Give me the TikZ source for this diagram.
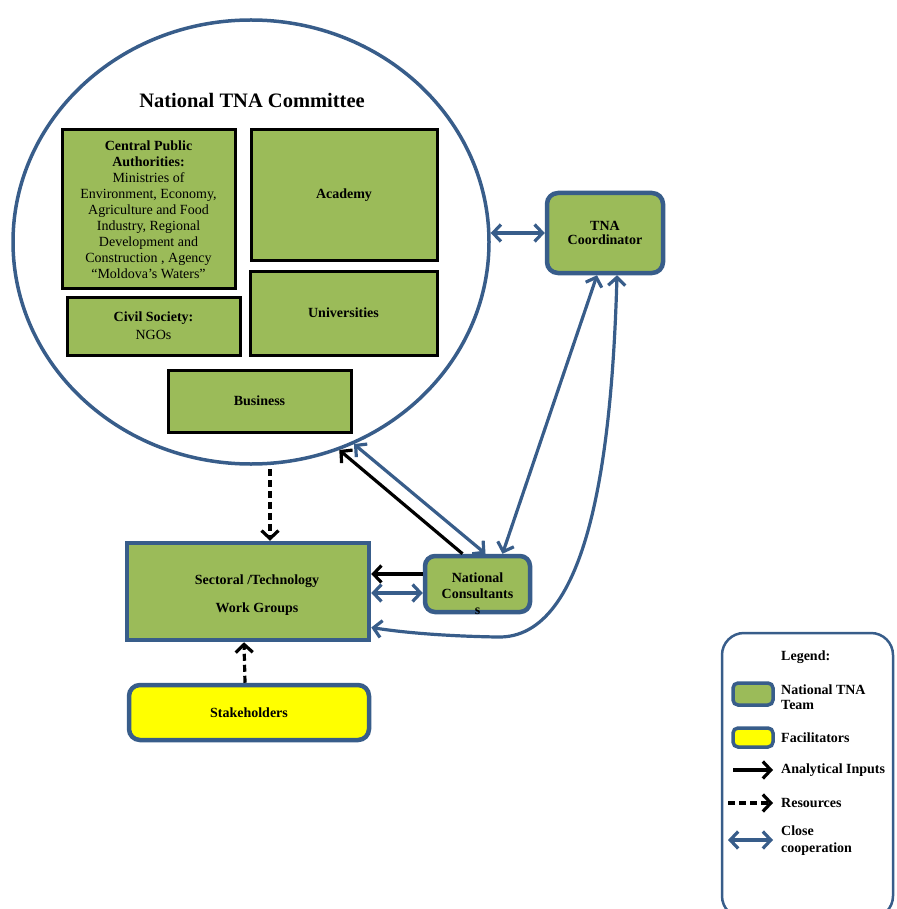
\documentclass[tikz,border=0pt]{standalone}
\usepackage{fontspec}
\setmainfont{Liberation Serif}
\usetikzlibrary{arrows.meta,shapes.geometric,calc}
\definecolor{tnagreen}{HTML}{9BBB59}
\definecolor{tnablue}{HTML}{385D8A}
\definecolor{tnayellow}{HTML}{FFFF00}

\tikzset{
  body/.style={font=\fontsize{14}{16}\selectfont\bfseries, align=center, inner sep=0pt},
  member/.style={draw=black, line width=3pt, fill=tnagreen, inner sep=0pt, body},
  team/.style={draw=tnablue, line width=4.5pt, fill=tnagreen, inner sep=0pt, body},
  teamround/.style={team, rounded corners=11pt},
  helper/.style={draw=tnablue, line width=4.5pt, fill=tnayellow, rounded corners=11pt, inner sep=0pt, body},
  barb/.tip={Straight Barb[length=8pt,width=17pt]},
  coop/.style={draw=tnablue, line width=3.2pt, barb-barb},
  input/.style={draw=black, line width=3.2pt, -barb},
  resource/.style={input, dash pattern=on 7pt off 4pt},
  legtext/.style={font=\fontsize{14}{15}\selectfont\bfseries, align=left, inner sep=0pt, anchor=west},
}

\begin{document}
\begin{tikzpicture}[x=1pt,y=-1pt]
\useasboundingbox (0,0) rectangle (896,909);

% committee circle and its members
\node[ellipse, draw=tnablue, line width=3.5pt, minimum width=476pt, minimum height=444pt, inner sep=0pt]
  (committee) at (251,242) {};
\node[font=\fontsize{20.5}{24}\selectfont\bfseries, inner sep=0pt] (title) at (252,100) {National TNA Committee};

\node[member, minimum width=173pt, minimum height=158pt] (cpa) at (148.5,209) {};
\node[body] (cpatext) at (148.5,210) {Central Public\\Authorities:\\
  \mdseries Ministries of\\ \mdseries Environment, Economy,\\ \mdseries Agriculture and Food\\
  \mdseries Industry, Regional\\ \mdseries Development and\\ \mdseries Construction , Agency\\
  \mdseries ``Moldova's Waters''};
\node[member, minimum width=186pt, minimum height=130pt] (academy) at (344,195) {Academy};
\node[member, minimum width=187pt, minimum height=84pt] (univ) at (343.5,313) {Universities};
\node[member, minimum width=173pt, minimum height=58pt, font=\fontsize{14}{18}\selectfont\bfseries] (civil) at (153.5,326)
  {Civil Society:\\ \mdseries NGOs};
\node[member, minimum width=183pt, minimum height=62pt] (business) at (259.5,401) {Business};

% coordinator, consultants, work groups, stakeholders
\node[teamround, minimum width=116pt, minimum height=80pt, font=\fontsize{14}{14.5}\selectfont\bfseries]
  (tna) at (605,233) {TNA\\Coordinator};
\node[teamround, minimum width=105pt, minimum height=56pt, rounded corners=10pt] (cons) at (477.5,584) {};
\node[body] (constext) at ($(cons.center)+(0,10)$) {National\\Consultants\\s};
\node[team, minimum width=242pt, minimum height=97pt] (sector) at (248,591.5) {};
\node[body, font=\fontsize{14}{28}\selectfont\bfseries] (sectortext) at (257,595) {Sectoral /Technology\\Work Groups};
\node[helper, minimum width=240pt, minimum height=55pt] (stake) at (249,712.5) {Stakeholders};

% connectors
\draw[resource] ($(committee.south)+(19,3)$) -- ($(sector.north)+(22,0)$);
\draw[resource] ($(stake.north)+(-4,0)$) -- ($(sector.south)+(-4,0)$);
\draw[coop] (committee.east |- tna.west) -- (tna.west);
\draw[input] ($(cons.north)+(-15,0)$) -- (committee.-67.4);
\draw[coop] (committee.-63) -- ($(cons.north)+(8,0)$);
\draw[coop] ($(tna.south)+(-8,0)$) -- ($(cons.north)+(25,0)$);
\draw[input] ($(cons.west)+(0,-10)$) -- (sector.east |- {$(cons.west)+(0,-10)$});
\draw[coop] ($(cons.west)+(0,9)$) -- (sector.east |- {$(cons.west)+(0,9)$});
\draw[coop] ($(tna.south)+(12,0)$) .. controls (612,450) and (590,640) .. (497,637)
  .. controls (440,636) and (400,632) .. ($(sector.east)+(0,36)$);

% legend
\draw[draw=tnablue, line width=2.5pt, rounded corners=22pt] (722,633) rectangle (893,918);
\node[legtext] (legtitle) at (781,657) {Legend:};
\node[teamround, rounded corners=5pt, line width=3.5pt, minimum width=40pt, minimum height=22pt] (legteam) at (753,694) {};
\node[legtext] (legteamtext) at (781,697) {National TNA\\Team};
\node[helper, rounded corners=5pt, line width=3.5pt, minimum width=40pt, minimum height=19pt] (leghelp) at (753,737.5) {};
\node[legtext] (leghelptext) at (781,738) {Facilitators};
\coordinate (inA) at (733,770); \coordinate (inB) at (773,770);
\draw[input] (inA) -- (inB);
\node[legtext] (legin) at (781,770) {Analytical Inputs};
\coordinate (resA) at (728,803); \coordinate (resB) at (773,803);
\draw[resource] (resA) -- (resB);
\node[legtext] (legres) at (781,803) {Resources};
\coordinate (coA) at (728,840); \coordinate (coB) at (773,840);
\draw[coop] (coA) -- (coB);
\node[legtext, font=\fontsize{14}{17}\selectfont\bfseries] (legco) at (781,841) {Close\\cooperation};
\end{tikzpicture}
\end{document}
